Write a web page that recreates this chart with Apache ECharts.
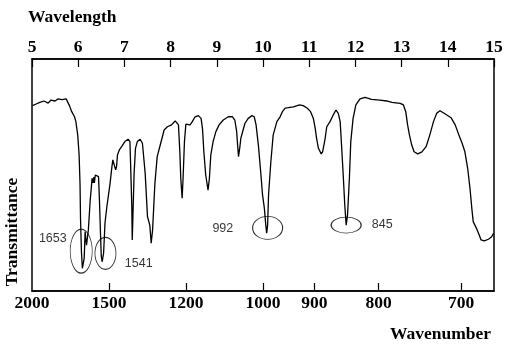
<!DOCTYPE html>
<html>
<head>
<meta charset="utf-8">
<script src="https://cdn.jsdelivr.net/npm/echarts@6/dist/echarts.min.js"></script>
<style>
  html, body { margin: 0; padding: 0; background: #fff; }
  #chart { width: 508px; height: 350px; }
</style>
</head>
<body>
<div id="chart"></div>
<script>
// spectrum: wavelength (µm) and transmittance (0-100, arbitrary)
const wavelength = [
  5.01, 5.09, 5.17, 5.26, 5.35, 5.41, 5.50, 5.56, 5.65, 5.74, 5.78, 5.81, 5.86, 5.92, 5.95, 5.99,
  6.02, 6.04, 6.05, 6.07, 6.09, 6.10, 6.13, 6.15, 6.18, 6.22, 6.26, 6.28, 6.30, 6.32, 6.34, 6.35,
  6.37, 6.41, 6.44, 6.46, 6.48, 6.50, 6.52, 6.55, 6.58, 6.62, 6.65, 6.69, 6.73, 6.75, 6.77, 6.79,
  6.81, 6.83, 6.85, 6.89, 6.94, 7.01, 7.08, 7.12, 7.14, 7.16, 7.17, 7.19, 7.21, 7.24, 7.28, 7.34,
  7.39, 7.45, 7.50, 7.55, 7.58, 7.61, 7.66, 7.71, 7.77, 7.86, 7.93, 8.02, 8.10, 8.14, 8.17, 8.20,
  8.22, 8.25, 8.27, 8.30, 8.33, 8.37, 8.42, 8.47, 8.53, 8.60, 8.66, 8.69, 8.72, 8.76, 8.81, 8.84,
  8.87, 8.92, 8.98, 9.05, 9.14, 9.25, 9.34, 9.39, 9.43, 9.45, 9.47, 9.50, 9.52, 9.55, 9.61, 9.68,
  9.76, 9.81, 9.85, 9.90, 9.95, 9.99, 10.03, 10.06, 10.08, 10.10, 10.12, 10.17, 10.22, 10.30, 10.37, 10.42,
  10.48, 10.55, 10.66, 10.79, 10.87, 10.96, 11.03, 11.09, 11.13, 11.16, 11.20, 11.26, 11.29, 11.34, 11.38, 11.45,
  11.52, 11.58, 11.63, 11.67, 11.70, 11.74, 11.77, 11.80, 11.83, 11.87, 11.90, 11.95, 12.01, 12.10, 12.21, 12.35,
  12.53, 12.68, 12.79, 12.97, 13.04, 13.09, 13.13, 13.17, 13.22, 13.27, 13.35, 13.44, 13.53, 13.61, 13.69, 13.76,
  13.83, 13.92, 14.07, 14.16, 14.24, 14.31, 14.37, 14.43, 14.48, 14.52, 14.55, 14.62, 14.68, 14.72, 14.79, 14.88,
  14.95, 14.99
];
const transmittance = [
  79.9, 80.6, 81.3, 81.9, 81.0, 82.3, 81.9, 82.8, 82.5, 82.8, 82.3, 79.9, 77.3, 75.1, 73.0, 67.2,
  58.6, 45.7, 31.5, 16.9, 9.8, 9.1, 14.2, 25.6, 19.8, 26.3, 39.2, 43.5, 48.6, 46.6, 49.1, 46.6,
  50.0, 50.7, 49.3, 39.2, 26.3, 14.8, 12.6, 16.4, 29.3, 36.3, 40.6, 46.4, 53.6, 56.5, 57.2, 55.7,
  52.2, 53.6, 58.6, 60.8, 62.2, 64.4, 65.4, 64.4, 50.7, 36.3, 22.0, 36.3, 50.7, 61.5, 64.4, 65.4,
  63.7, 50.7, 32.0, 28.4, 20.6, 26.3, 46.4, 57.9, 62.5, 69.4, 70.8, 71.6, 73.3, 73.7, 71.6, 60.0,
  48.6, 40.0, 48.6, 64.4, 71.9, 72.3, 71.6, 73.0, 75.1, 75.6, 74.4, 70.1, 60.0, 50.0, 43.5, 48.6,
  58.6, 64.4, 68.7, 71.6, 73.7, 75.1, 75.1, 73.7, 68.7, 62.9, 57.9, 62.2, 65.8, 68.0, 72.3, 74.4,
  75.6, 75.1, 71.6, 62.9, 51.4, 41.4, 35.6, 28.4, 24.9, 28.4, 41.4, 55.7, 67.2, 73.0, 75.1, 77.3,
  78.8, 79.0, 79.4, 80.2, 79.9, 78.8, 77.3, 74.4, 70.1, 65.8, 61.5, 59.1, 60.0, 65.1, 70.8, 73.0,
  75.9, 78.0, 76.6, 73.0, 62.9, 48.6, 37.1, 28.4, 32.8, 48.6, 64.4, 74.4, 80.2, 82.8, 83.5, 82.6,
  82.3, 81.9, 81.3, 80.9, 80.2, 77.3, 71.6, 67.2, 62.9, 60.0, 59.1, 60.0, 62.2, 67.2, 73.0, 76.6,
  77.7, 76.6, 74.7, 71.6, 67.2, 63.7, 60.0, 52.9, 44.3, 35.6, 29.9, 27.0, 24.1, 22.0, 21.6, 22.3,
  23.4, 24.9
];

// bottom axis labels (wavenumber, cm-1)
const wavenumberLabels = [2000, 1500, 1200, 1000, 900, 800, 700];

// marked peaks: name, ellipse centre, label centre (wavelength, transmittance)
const peakNames = ['1653', '1541', '992', '845'];
const peakCircleAt = [[6.065, 17.2], [6.59, 16.25], [10.10, 27.2], [11.80, 28.4]];
const peakLabelAt = [[5.45, 22.8], [7.31, 11.9], [9.13, 27.0], [12.58, 28.7]];

const serif = 'Liberation Serif';
const serifText = { fontFamily: serif, fontSize: 17.5, fontWeight: 'bold', color: '#000' };

const chart = echarts.init(document.getElementById('chart'));

// wavenumber -> position on the wavelength scale
const wnPos = wavenumberLabels.map(w => 10000 / w);

const circleSizes = [[22, 44], [21, 32], [30, 23], [30, 16]];

const option = {
  animation: false,
  backgroundColor: '#fff',
  title: [
    { text: 'Wavelength', left: 28, top: 8, padding: 0, textStyle: serifText },
    { text: 'Wavenumber', right: 17, top: 325, padding: 0, textStyle: serifText }
  ],
  graphic: [
    {
      type: 'text', x: 12, y: 232, rotation: Math.PI / 2,
      style: {
        text: 'Transmittance', fontFamily: serif, fontSize: 17.5, fontWeight: 'bold', fill: '#000',
        textAlign: 'center', textVerticalAlign: 'middle'
      }
    }
  ],
  grid: {
    left: 32, right: 14, top: 59, bottom: 59,
    show: true, borderColor: '#000', borderWidth: 1.5, backgroundColor: 'transparent'
  },
  xAxis: [
    {
      type: 'value', position: 'top', min: 5, max: 15, interval: 1,
      axisLine: { show: true, onZero: false, lineStyle: { color: '#000', width: 1.5 } },
      axisTick: { show: true, inside: true, length: 8, lineStyle: { color: '#000', width: 1.2 } },
      axisLabel: Object.assign({ margin: 3, showMinLabel: true, showMaxLabel: true }, serifText),
      splitLine: { show: false }
    },
    {
      type: 'value', position: 'bottom', min: 5, max: 15,
      axisLine: { show: true, onZero: false, lineStyle: { color: '#000', width: 1.5 } },
      axisTick: {
        show: true, inside: true, length: 8, lineStyle: { color: '#000', width: 1.2 },
        customValues: wnPos.slice(1)
      },
      axisLabel: Object.assign({
        margin: 3,
        customValues: wnPos,
        formatter: v => String(Math.round(10000 / v))
      }, serifText),
      splitLine: { show: false }
    }
  ],
  yAxis: {
    type: 'value', min: 0, max: 100,
    axisLine: { show: false }, axisTick: { show: false },
    axisLabel: { show: false }, splitLine: { show: false }
  },
  series: [
    {
      name: 'spectrum',
      type: 'line',
      xAxisIndex: 0,
      data: wavelength.map((w, i) => [w, transmittance[i]]),
      showSymbol: false,
      smooth: false,
      lineStyle: { color: '#000', width: 1.3 },
      silent: true
    },
    {
      name: 'circles',
      type: 'scatter',
      xAxisIndex: 0,
      data: peakCircleAt.map((p, i) => ({ value: p, symbolSize: circleSizes[i] })),
      symbol: 'circle',
      itemStyle: { color: 'rgba(0,0,0,0)', borderColor: '#000', borderWidth: 1 },
      silent: true
    },
    {
      name: 'labels',
      type: 'scatter',
      xAxisIndex: 0,
      data: peakLabelAt.map((p, i) => ({ value: p, name: peakNames[i] })),
      symbolSize: 1,
      itemStyle: { color: 'rgba(0,0,0,0)' },
      label: {
        show: true, position: 'inside', formatter: '{b}',
        fontFamily: 'Liberation Sans', fontSize: 12.5, color: '#000'
      },
      silent: true
    }
  ]
};

chart.setOption(option);
</script>
</body>
</html>
